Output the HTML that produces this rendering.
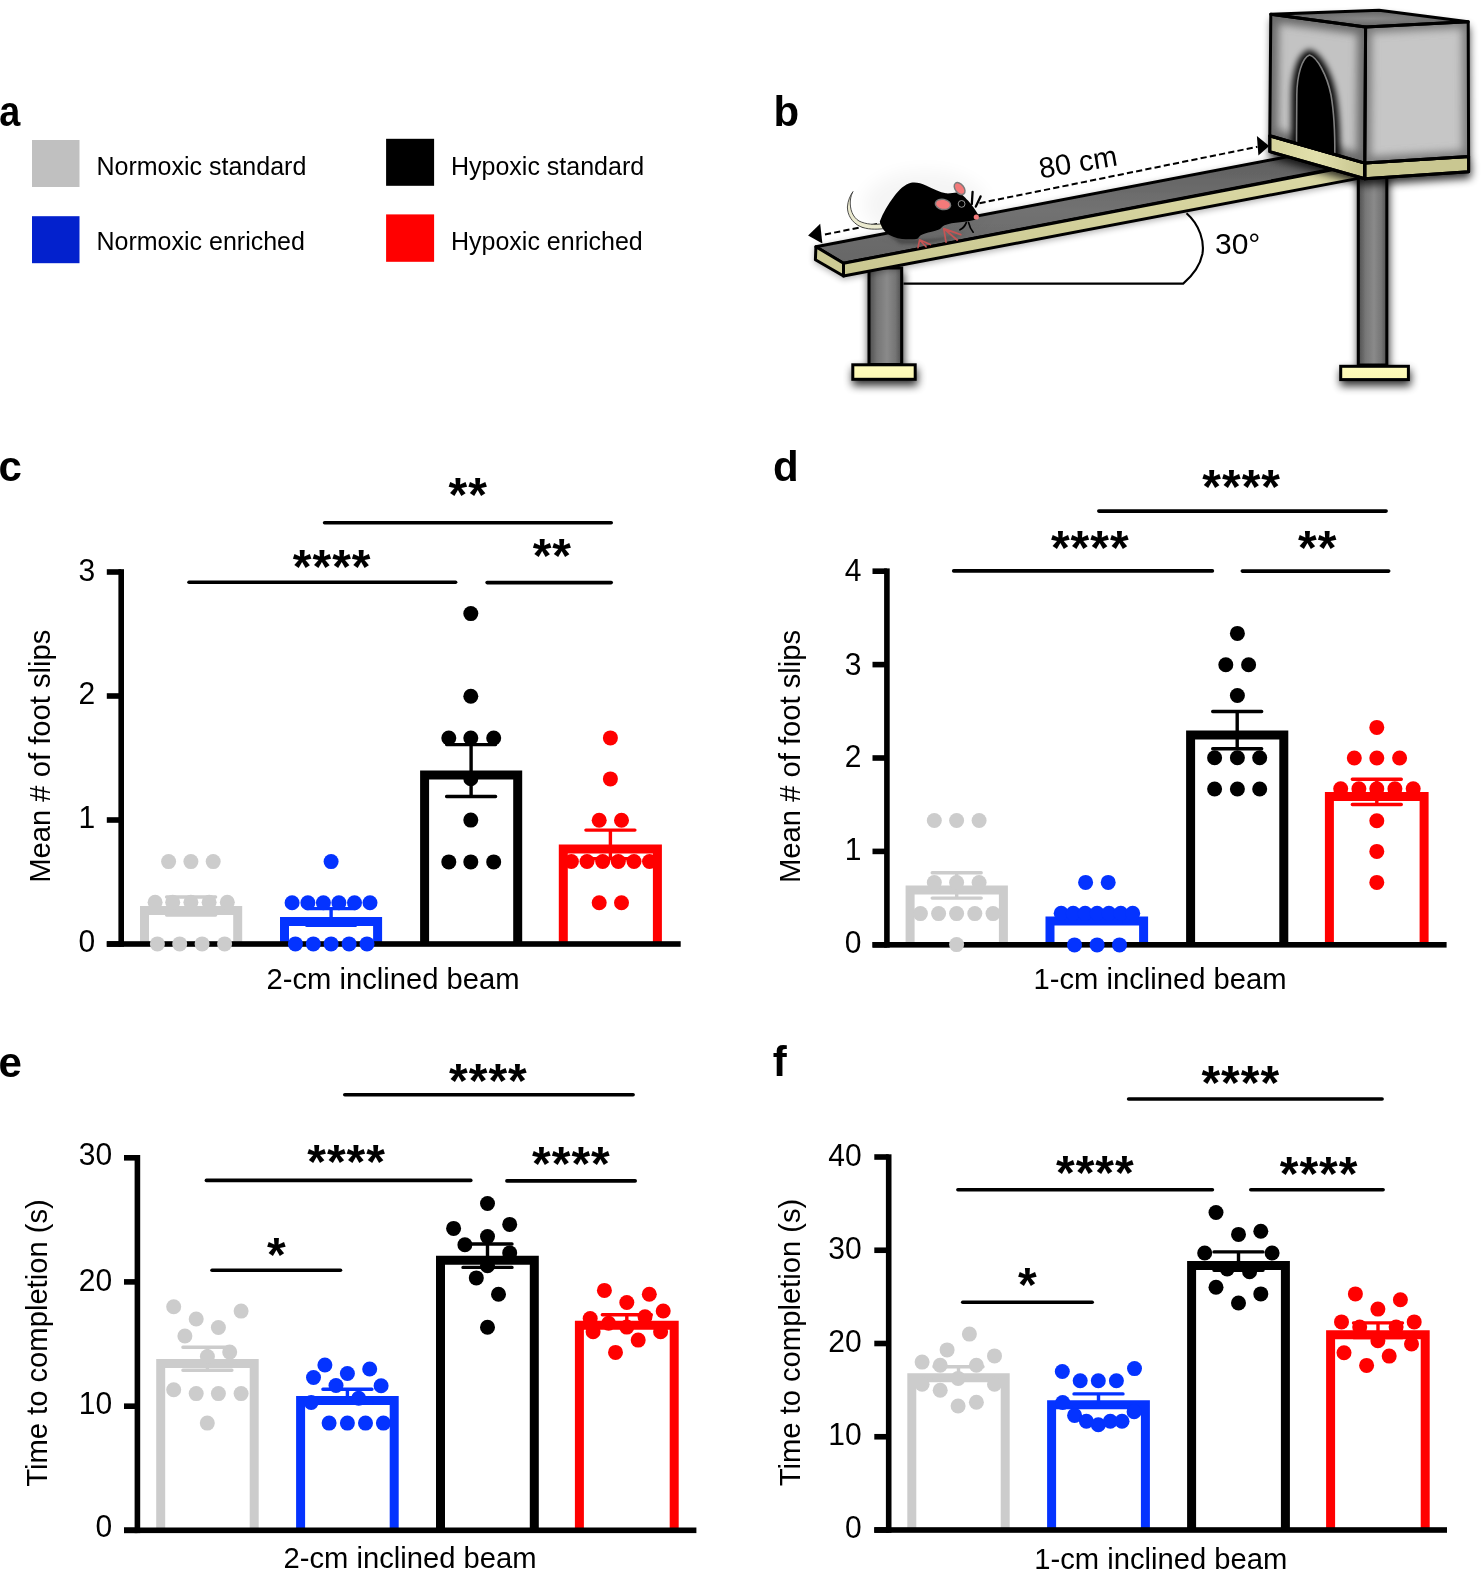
<!DOCTYPE html><html><head><meta charset="utf-8"><title>Figure</title>
<style>html,body{margin:0;padding:0;background:#fff;}svg{display:block;will-change:transform;}text{font-family:"Liberation Sans",sans-serif;}</style></head><body>
<svg width="1482" height="1569" viewBox="0 0 1482 1569">
<rect width="1482" height="1569" fill="#fff"/>
<text transform="translate(-0.7 125.6) scale(0.9 1)" font-size="42" font-weight="bold" font-family="Liberation Sans">a</text>
<rect x="32" y="140" width="47.5" height="47" fill="#c0c0c0"/>
<rect x="32" y="216.2" width="47.5" height="47" fill="#0321cd"/>
<rect x="386.1" y="138.8" width="48" height="47" fill="#000"/>
<rect x="386.1" y="214.4" width="48" height="47.4" fill="#ff0000"/>
<text x="96.5" y="174.6" font-size="25.0" font-family="Liberation Sans">Normoxic standard</text>
<text x="96.5" y="250.4" font-size="25.0" font-family="Liberation Sans">Normoxic enriched</text>
<text x="451" y="174.6" font-size="25.0" font-family="Liberation Sans">Hypoxic standard</text>
<text x="451" y="250.4" font-size="25.0" font-family="Liberation Sans">Hypoxic enriched</text>
<text x="773.6" y="125.6" font-size="42" font-weight="bold" font-family="Liberation Sans">b</text>
<text x="-1.5" y="480.7" font-size="42" font-weight="bold" font-family="Liberation Sans">c</text>
<text x="773.1" y="480.7" font-size="42" font-weight="bold" font-family="Liberation Sans">d</text>
<text x="-1.6" y="1076.5" font-size="42" font-weight="bold" font-family="Liberation Sans">e</text>
<text x="772.7" y="1076.3" font-size="42" font-weight="bold" font-family="Liberation Sans">f</text>
<defs>
<filter id="sh" x="-20%" y="-20%" width="140%" height="140%"><feGaussianBlur in="SourceAlpha" stdDeviation="4.5"/><feOffset dx="0.5" dy="4.5" result="b"/><feComponentTransfer><feFuncA type="linear" slope="0.8"/></feComponentTransfer><feMerge><feMergeNode/><feMergeNode in="SourceGraphic"/></feMerge></filter>
<filter id="shl" x="-20%" y="-20%" width="140%" height="140%"><feGaussianBlur in="SourceAlpha" stdDeviation="3.2"/><feOffset dx="0" dy="1.5" result="b"/><feComponentTransfer><feFuncA type="linear" slope="0.3"/></feComponentTransfer><feMerge><feMergeNode/><feMergeNode in="SourceGraphic"/></feMerge></filter>
<filter id="bl6" x="-50%" y="-50%" width="200%" height="200%"><feGaussianBlur stdDeviation="9"/></filter>
<filter id="bl4" x="-30%" y="-30%" width="160%" height="160%"><feGaussianBlur stdDeviation="4"/></filter>
<filter id="bl3" x="-30%" y="-30%" width="160%" height="160%"><feGaussianBlur stdDeviation="3"/></filter>
<filter id="bl2" x="-30%" y="-30%" width="160%" height="160%"><feGaussianBlur stdDeviation="1.6"/></filter>
<filter id="bl1" x="-30%" y="-30%" width="160%" height="160%"><feGaussianBlur stdDeviation="0.6"/></filter>
<linearGradient id="post" x1="0" y1="0" x2="1" y2="0"><stop offset="0" stop-color="#4e4e4e"/><stop offset="0.25" stop-color="#767676"/><stop offset="0.55" stop-color="#8a8a8a"/><stop offset="0.8" stop-color="#767676"/><stop offset="1" stop-color="#4e4e4e"/></linearGradient>
<linearGradient id="foot" x1="0" y1="0" x2="0" y2="1"><stop offset="0" stop-color="#fffcbc"/><stop offset="1" stop-color="#fbf7b4"/></linearGradient>
<linearGradient id="beamtop" x1="0" y1="0" x2="0" y2="1"><stop offset="0" stop-color="#5e5e5e"/><stop offset="0.5" stop-color="#727272"/><stop offset="1" stop-color="#666666"/></linearGradient>
<linearGradient id="beamfront" x1="0" y1="0" x2="0" y2="1"><stop offset="0" stop-color="#dcdaa6"/><stop offset="1" stop-color="#c9c790"/></linearGradient>
<linearGradient id="plat" x1="0" y1="0" x2="1" y2="0"><stop offset="0" stop-color="#d5d39c"/><stop offset="0.5" stop-color="#e2e0ac"/><stop offset="1" stop-color="#c6c48e"/></linearGradient>
<radialGradient id="boxtop" cx="0.5" cy="0.5" r="0.6"><stop offset="0" stop-color="#888888"/><stop offset="1" stop-color="#5a5a5a"/></radialGradient>
<clipPath id="cfl"><path d="M1270.8 14.2 L1365.6 27.0 L1364.8 163.1 L1269.8 135.8 Z"/></clipPath>
<clipPath id="cfr"><path d="M1365.6 27.0 L1468.2 21.7 L1468.6 156.4 L1364.8 163.1 Z"/></clipPath>
</defs>
<g filter="url(#sh)">
<rect x="869" y="268" width="32.7" height="96.5" fill="url(#post)" stroke="#000" stroke-width="3"/>
<rect x="1358.3" y="172" width="28.5" height="193" fill="url(#post)" stroke="#000" stroke-width="3"/>
<rect x="852.8" y="364.8" width="62.4" height="14.5" fill="url(#foot)" stroke="#000" stroke-width="3"/>
<rect x="1340.7" y="366.3" width="67.7" height="13.3" fill="url(#foot)" stroke="#000" stroke-width="3"/>
</g>
<g filter="url(#shl)">
<path d="M815.9 246.7 L1290.0 156.3 L1345.0 166.8 L843.5 263.2 Z" fill="url(#beamtop)" stroke="#000" stroke-width="3" stroke-linejoin="round"/>
<path d="M843.5 263.2 L1357.0 165.1 L1357.0 178.6 L843.5 276.0 Z" fill="url(#beamfront)" stroke="#000" stroke-width="3" stroke-linejoin="round"/>
<path d="M815.9 246.7 L843.5 263.2 L843.5 276.0 L815.4 259.8 Z" fill="#cdcb94" stroke="#000" stroke-width="3" stroke-linejoin="round"/>
</g>
<g filter="url(#sh)">
<path d="M1269.8 135.8 L1364.8 163.1 L1364.8 178.8 L1269.8 151.6 Z" fill="url(#plat)" stroke="#000" stroke-width="3" stroke-linejoin="round"/>
<path d="M1364.8 163.1 L1468.6 156.4 L1468.6 171.7 L1364.8 178.8 Z" fill="#c9c791" stroke="#000" stroke-width="3" stroke-linejoin="round"/>
<path d="M1270.8 14.2 L1365.6 27.0 L1364.8 163.1 L1269.8 135.8 Z" fill="#c3c3c3"/>
<path d="M1365.6 27.0 L1468.2 21.7 L1468.6 156.4 L1364.8 163.1 Z" fill="#c6c6c6"/>
<path d="M1270.8 14.2 L1379.1 10.2 L1468.2 21.7 L1365.6 27.0 Z" fill="url(#boxtop)"/>
</g>
<g clip-path="url(#cfl)"><path d="M1270.8 14.2 L1365.6 27.0 L1364.8 163.1 L1269.8 135.8 Z" fill="none" stroke="#6a6a6a" stroke-width="16" filter="url(#bl4)"/>
<path d="M1296.5 146 L1296.8 95 C1297 75 1302 58 1309.5 55 C1317 57 1327 75 1331 95 C1334 112 1335 135 1334.8 156 Z" fill="none" stroke="#000" stroke-width="10" filter="url(#bl3)"/>
<path d="M1296.5 146 L1296.8 95 C1297 75 1302 58 1309.5 55 C1317 57 1327 75 1331 95 C1334 112 1335 135 1334.8 156 Z" fill="#000" stroke="#808080" stroke-width="1.6"/>
</g>
<g clip-path="url(#cfr)"><path d="M1365.6 27.0 L1468.2 21.7 L1468.6 156.4 L1364.8 163.1 Z" fill="none" stroke="#7a7a7a" stroke-width="12" filter="url(#bl4)"/></g>
<path d="M1270.8 14.2 L1365.6 27.0 L1364.8 163.1 L1269.8 135.8 Z" fill="none" stroke="#000" stroke-width="3" stroke-linejoin="round"/>
<path d="M1365.6 27.0 L1468.2 21.7 L1468.6 156.4 L1364.8 163.1 Z" fill="none" stroke="#000" stroke-width="3" stroke-linejoin="round"/>
<path d="M1270.8 14.2 L1379.1 10.2 L1468.2 21.7 L1365.6 27.0 Z" fill="none" stroke="#000" stroke-width="3" stroke-linejoin="round"/>
<path d="M1269.8 135.8 L1364.8 163.1 L1364.8 178.8 L1269.8 151.6 Z" fill="none" stroke="#000" stroke-width="3" stroke-linejoin="round"/>
<path d="M1364.8 163.1 L1468.6 156.4 L1468.6 171.7 L1364.8 178.8 Z" fill="none" stroke="#000" stroke-width="3" stroke-linejoin="round"/>
<path d="M903.5 283.6 H1183.2 C1192 276 1200 266 1202.4 254 C1204.5 242 1200 225 1186.5 213.2" fill="none" stroke="#000" stroke-width="2.1"/>
<text x="1215" y="254.3" font-size="30" font-family="Liberation Sans">30°</text>
<path d="M822 235.1 L900 219.3" stroke="#000" stroke-width="2" stroke-dasharray="6.2 3.2" stroke-dashoffset="-3"/>
<path d="M979.5 203.2 L1257.5 146.8" stroke="#000" stroke-width="2" stroke-dasharray="6.2 3.2"/>
<path d="M808.1 235.4 L820.2 223.8 L822.4 243.5 Z" fill="#000"/>
<path d="M1269.2 145.9 L1256.9 136 L1258.4 155.6 Z" fill="#000"/>
<text transform="translate(1040.8 178.6) rotate(-9.8)" font-size="29" font-family="Liberation Sans">80 cm</text>
<ellipse cx="925" cy="205" rx="62" ry="34" fill="#000" opacity="0.04" filter="url(#bl6)"/>
<path d="M884 232 C900 240 930 243 965 233 C955 238 925 246 900 244 Z" fill="#333" opacity="0.5" filter="url(#bl2)"/>
<path d="M883 223.6 C875 225 866 224.5 859 221 C852.5 217 849.8 209 850.3 201 C850.7 196.5 851.8 193.5 853 191.6 C850.5 195 847.8 200.5 847.4 207 C847.4 215 852 222.5 860 226.4 C867 229.6 876 229.6 884 228.6 Z" fill="#ebead0" stroke="#3a3a3a" stroke-width="0.9" stroke-linejoin="round"/>
<path d="M879.8 221.5 C883 213 888 204 894 196.5 C899 190 905 184 911 182.8 C916 182 921 183.2 926 185.4 C933 188.6 940 192.2 946 193.3 C950 193.8 954 192.3 957 192.4 C961 193 964.5 196.5 968 200.5 C972 205 975.5 210 978.3 214.8 C979 217 977.8 219 975 219.8 C971 221 966 221.8 960 222.2 C954 222.6 948.5 223.6 944.5 225.2 C942 226.5 941 228.5 939 229.6 C934 231.4 929 232.4 925 233.4 C921 234.4 919 236.2 918 238.4 C914 239.6 908 239.4 902 239 C896 238.4 890 235.8 886 232.4 C883 229.8 881 226 879.8 221.5 Z" fill="#000"/>
<ellipse cx="943" cy="204.4" rx="7.7" ry="5.1" transform="rotate(10 943 204.4)" fill="#f47a7a" stroke="#7c7c7c" stroke-width="1.5"/>
<ellipse cx="959.6" cy="188.6" rx="4.3" ry="6.8" transform="rotate(-38 959.6 188.6)" fill="#f47a7a" stroke="#7c7c7c" stroke-width="1.5"/>
<circle cx="961.6" cy="203.9" r="3.4" fill="#000" stroke="#b8b8b8" stroke-width="0.8"/>
<circle cx="976.3" cy="217" r="2.6" fill="#f47a7a"/>
<path d="M972.6 191.8 L971.8 204.2 M980.6 196.4 L975.8 206.6" fill="none" stroke="#000" stroke-width="2.3" stroke-linecap="round"/>
<path d="M966.3 222.6 C965 226 962.5 228.6 960 229.8 M968.6 222.6 C969.5 226.5 971.3 230 973.2 232.2" fill="none" stroke="#000" stroke-width="1.7" stroke-linecap="round"/>
<path d="M918 247.6 L919.6 239.8 L930.2 244.6 M919.6 239.8 L926 246.8 M946 242.2 L943.8 228.6 L960.8 234.6 M943.8 228.6 L957.2 240" fill="none" stroke="#c65454" stroke-width="1.7" stroke-linecap="round" stroke-linejoin="round"/>
<path d="M144.5 944 V910.6 H237.7 V944" fill="none" stroke="#cccccc" stroke-width="9" stroke-linejoin="miter"/>
<path d="M284.5 944 V921.4 H377.6 V944" fill="none" stroke="#0433ff" stroke-width="9" stroke-linejoin="miter"/>
<path d="M424.6 944 V775 H517.7 V944" fill="none" stroke="#000000" stroke-width="9" stroke-linejoin="miter"/>
<path d="M563.3 944 V848.9 H657.4 V944" fill="none" stroke="#ff0000" stroke-width="9" stroke-linejoin="miter"/>
<rect x="118.4" y="569.2" width="5.6" height="377.6" fill="#000"/>
<rect x="106.8" y="941.2" width="573.9" height="5.6" fill="#000"/>
<rect x="106.8" y="569.2" width="14.4" height="5.6" fill="#000"/>
<text transform="translate(95.1 570.25) scale(1 1.05)" x="0" y="10.32" text-anchor="end" font-size="30" font-family="Liberation Sans">3</text>
<rect x="106.8" y="693.2" width="14.4" height="5.6" fill="#000"/>
<text transform="translate(95.1 693.65) scale(1 1.05)" x="0" y="10.32" text-anchor="end" font-size="30" font-family="Liberation Sans">2</text>
<rect x="106.8" y="817.2" width="14.4" height="5.6" fill="#000"/>
<text transform="translate(95.1 817.3) scale(1 1.05)" x="0" y="10.32" text-anchor="end" font-size="30" font-family="Liberation Sans">1</text>
<rect x="106.8" y="941.2" width="14.4" height="5.6" fill="#000"/>
<text transform="translate(95.1 940.85) scale(1 1.05)" x="0" y="10.32" text-anchor="end" font-size="30" font-family="Liberation Sans">0</text>
<path d="M191.1 897 V915 M166.6 897 H215.6 M166.6 915 H215.6" fill="none" stroke="#cccccc" stroke-width="3.4" stroke-linecap="round"/>
<path d="M331.1 908.6 V925.2 M306.6 908.6 H355.6 M306.6 925.2 H355.6" fill="none" stroke="#0433ff" stroke-width="3.4" stroke-linecap="round"/>
<path d="M471.1 744.6 V796.5 M446.6 744.6 H495.6 M446.6 796.5 H495.6" fill="none" stroke="#000000" stroke-width="3.4" stroke-linecap="round"/>
<path d="M610.4 830.1 V858.7 M585.9 830.1 H634.9 M585.9 858.7 H634.9" fill="none" stroke="#ff0000" stroke-width="3.4" stroke-linecap="round"/>
<circle cx="168.6" cy="861.6" r="7.5" fill="#cccccc"/>
<circle cx="190.9" cy="861.6" r="7.5" fill="#cccccc"/>
<circle cx="213.2" cy="861.6" r="7.5" fill="#cccccc"/>
<circle cx="155.1" cy="902.3" r="7.5" fill="#cccccc"/>
<circle cx="172.7" cy="902.3" r="7.5" fill="#cccccc"/>
<circle cx="190.9" cy="902.3" r="7.5" fill="#cccccc"/>
<circle cx="209.1" cy="902.3" r="7.5" fill="#cccccc"/>
<circle cx="227.3" cy="902.3" r="7.5" fill="#cccccc"/>
<circle cx="157.4" cy="943.9" r="7.5" fill="#cccccc"/>
<circle cx="179.7" cy="943.9" r="7.5" fill="#cccccc"/>
<circle cx="202.1" cy="943.9" r="7.5" fill="#cccccc"/>
<circle cx="224.6" cy="943.9" r="7.5" fill="#cccccc"/>
<circle cx="331.1" cy="861.6" r="7.5" fill="#0433ff"/>
<circle cx="292.1" cy="902.8" r="7.5" fill="#0433ff"/>
<circle cx="307.9" cy="902.8" r="7.5" fill="#0433ff"/>
<circle cx="323.4" cy="902.8" r="7.5" fill="#0433ff"/>
<circle cx="338.9" cy="902.8" r="7.5" fill="#0433ff"/>
<circle cx="354.5" cy="902.8" r="7.5" fill="#0433ff"/>
<circle cx="370" cy="902.8" r="7.5" fill="#0433ff"/>
<circle cx="295.4" cy="943.9" r="7.5" fill="#0433ff"/>
<circle cx="313.3" cy="943.9" r="7.5" fill="#0433ff"/>
<circle cx="331.1" cy="943.9" r="7.5" fill="#0433ff"/>
<circle cx="349.1" cy="943.9" r="7.5" fill="#0433ff"/>
<circle cx="367" cy="943.9" r="7.5" fill="#0433ff"/>
<circle cx="470.8" cy="613.6" r="7.5" fill="#000000"/>
<circle cx="470.8" cy="696.2" r="7.5" fill="#000000"/>
<circle cx="448.8" cy="738" r="7.5" fill="#000000"/>
<circle cx="470.8" cy="738" r="7.5" fill="#000000"/>
<circle cx="493.7" cy="738" r="7.5" fill="#000000"/>
<circle cx="470.8" cy="778.8" r="7.5" fill="#000000"/>
<circle cx="470.8" cy="820.1" r="7.5" fill="#000000"/>
<circle cx="448.8" cy="861.9" r="7.5" fill="#000000"/>
<circle cx="470.8" cy="861.9" r="7.5" fill="#000000"/>
<circle cx="493.7" cy="861.9" r="7.5" fill="#000000"/>
<circle cx="610.4" cy="737.9" r="7.5" fill="#ff0000"/>
<circle cx="610.4" cy="778.9" r="7.5" fill="#ff0000"/>
<circle cx="599.2" cy="820.2" r="7.5" fill="#ff0000"/>
<circle cx="621.5" cy="820.2" r="7.5" fill="#ff0000"/>
<circle cx="571.4" cy="861.5" r="7.5" fill="#ff0000"/>
<circle cx="587" cy="861.5" r="7.5" fill="#ff0000"/>
<circle cx="602.7" cy="861.5" r="7.5" fill="#ff0000"/>
<circle cx="618.3" cy="861.5" r="7.5" fill="#ff0000"/>
<circle cx="634" cy="861.5" r="7.5" fill="#ff0000"/>
<circle cx="649.5" cy="861.5" r="7.5" fill="#ff0000"/>
<circle cx="599.2" cy="902.8" r="7.5" fill="#ff0000"/>
<circle cx="621.5" cy="902.8" r="7.5" fill="#ff0000"/>
<path d="M189 582.2 H455.6" stroke="#000" stroke-width="3.6" stroke-linecap="round"/>
<path d="M487.1 582.6 H611.2" stroke="#000" stroke-width="3.6" stroke-linecap="round"/>
<path d="M324.6 522.7 H611.2" stroke="#000" stroke-width="3.6" stroke-linecap="round"/>
<text x="332.15" y="583.2" text-anchor="middle" font-size="48" font-weight="bold" letter-spacing="1" font-family="Liberation Sans">****</text>
<text x="552.35" y="571.9" text-anchor="middle" font-size="48" font-weight="bold" letter-spacing="1" font-family="Liberation Sans">**</text>
<text x="468.15" y="510.5" text-anchor="middle" font-size="48" font-weight="bold" letter-spacing="1" font-family="Liberation Sans">**</text>
<text transform="translate(49.5 756.2) rotate(-90)" text-anchor="middle" font-size="29.2" font-family="Liberation Sans">Mean # of foot slips</text>
<text x="393.05" y="988.5" text-anchor="middle" font-size="29.2" font-family="Liberation Sans">2-cm inclined beam</text>
<path d="M910.1 944.8 V890 H1003.4 V944.8" fill="none" stroke="#cccccc" stroke-width="9" stroke-linejoin="miter"/>
<path d="M1050 944.8 V920.9 H1143.6 V944.8" fill="none" stroke="#0433ff" stroke-width="9" stroke-linejoin="miter"/>
<path d="M1190.6 944.8 V735 H1283.8 V944.8" fill="none" stroke="#000000" stroke-width="9" stroke-linejoin="miter"/>
<path d="M1329.4 944.8 V796.5 H1424.1 V944.8" fill="none" stroke="#ff0000" stroke-width="9" stroke-linejoin="miter"/>
<rect x="884.1" y="568.4" width="5.6" height="379.2" fill="#000"/>
<rect x="872.5" y="942" width="574.1" height="5.6" fill="#000"/>
<rect x="872.5" y="568.4" width="14.4" height="5.6" fill="#000"/>
<text transform="translate(861.4 570.65) scale(1 1.05)" x="0" y="10.32" text-anchor="end" font-size="30" font-family="Liberation Sans">4</text>
<rect x="872.5" y="661.8" width="14.4" height="5.6" fill="#000"/>
<text transform="translate(861.4 663.75) scale(1 1.05)" x="0" y="10.32" text-anchor="end" font-size="30" font-family="Liberation Sans">3</text>
<rect x="872.5" y="755.2" width="14.4" height="5.6" fill="#000"/>
<text transform="translate(861.4 756.15) scale(1 1.05)" x="0" y="10.32" text-anchor="end" font-size="30" font-family="Liberation Sans">2</text>
<rect x="872.5" y="848.6" width="14.4" height="5.6" fill="#000"/>
<text transform="translate(861.4 848.8) scale(1 1.05)" x="0" y="10.32" text-anchor="end" font-size="30" font-family="Liberation Sans">1</text>
<rect x="872.5" y="942" width="14.4" height="5.6" fill="#000"/>
<text transform="translate(861.4 941.95) scale(1 1.05)" x="0" y="10.32" text-anchor="end" font-size="30" font-family="Liberation Sans">0</text>
<path d="M956.7 872.7 V898.1 M932.2 872.7 H981.2 M932.2 898.1 H981.2" fill="none" stroke="#cccccc" stroke-width="3.4" stroke-linecap="round"/>
<path d="M1096.8 910.5 V922 M1072.3 910.5 H1121.3 M1072.3 922 H1121.3" fill="none" stroke="#0433ff" stroke-width="3.4" stroke-linecap="round"/>
<path d="M1237.2 711.5 V748.8 M1212.7 711.5 H1261.7 M1212.7 748.8 H1261.7" fill="none" stroke="#000000" stroke-width="3.4" stroke-linecap="round"/>
<path d="M1376.8 779.3 V804.5 M1352.3 779.3 H1401.3 M1352.3 804.5 H1401.3" fill="none" stroke="#ff0000" stroke-width="3.4" stroke-linecap="round"/>
<circle cx="934.3" cy="820.5" r="7.5" fill="#cccccc"/>
<circle cx="956.6" cy="820.5" r="7.5" fill="#cccccc"/>
<circle cx="979.1" cy="820.5" r="7.5" fill="#cccccc"/>
<circle cx="934.3" cy="882.6" r="7.5" fill="#cccccc"/>
<circle cx="956.6" cy="882.6" r="7.5" fill="#cccccc"/>
<circle cx="979.1" cy="882.6" r="7.5" fill="#cccccc"/>
<circle cx="920.4" cy="913.6" r="7.5" fill="#cccccc"/>
<circle cx="938.6" cy="913.6" r="7.5" fill="#cccccc"/>
<circle cx="956.6" cy="913.6" r="7.5" fill="#cccccc"/>
<circle cx="974.8" cy="913.6" r="7.5" fill="#cccccc"/>
<circle cx="993" cy="913.6" r="7.5" fill="#cccccc"/>
<circle cx="956.6" cy="944.6" r="7.5" fill="#cccccc"/>
<circle cx="1085.6" cy="882.4" r="7.5" fill="#0433ff"/>
<circle cx="1108.2" cy="882.4" r="7.5" fill="#0433ff"/>
<circle cx="1061.2" cy="913.3" r="7.5" fill="#0433ff"/>
<circle cx="1073.2" cy="913.3" r="7.5" fill="#0433ff"/>
<circle cx="1085.1" cy="913.3" r="7.5" fill="#0433ff"/>
<circle cx="1097.1" cy="913.3" r="7.5" fill="#0433ff"/>
<circle cx="1108.9" cy="913.3" r="7.5" fill="#0433ff"/>
<circle cx="1120.8" cy="913.3" r="7.5" fill="#0433ff"/>
<circle cx="1132.7" cy="913.3" r="7.5" fill="#0433ff"/>
<circle cx="1074.5" cy="944.9" r="7.5" fill="#0433ff"/>
<circle cx="1097.1" cy="944.9" r="7.5" fill="#0433ff"/>
<circle cx="1119.5" cy="944.9" r="7.5" fill="#0433ff"/>
<circle cx="1237.4" cy="633.4" r="7.5" fill="#000000"/>
<circle cx="1225.8" cy="664.7" r="7.5" fill="#000000"/>
<circle cx="1248.6" cy="664.7" r="7.5" fill="#000000"/>
<circle cx="1237.4" cy="695.5" r="7.5" fill="#000000"/>
<circle cx="1214.6" cy="757.7" r="7.5" fill="#000000"/>
<circle cx="1237.4" cy="757.7" r="7.5" fill="#000000"/>
<circle cx="1259.7" cy="757.7" r="7.5" fill="#000000"/>
<circle cx="1214.6" cy="789" r="7.5" fill="#000000"/>
<circle cx="1237.4" cy="789" r="7.5" fill="#000000"/>
<circle cx="1259.7" cy="789" r="7.5" fill="#000000"/>
<circle cx="1376.8" cy="727.4" r="7.5" fill="#ff0000"/>
<circle cx="1354.3" cy="758" r="7.5" fill="#ff0000"/>
<circle cx="1376.8" cy="758" r="7.5" fill="#ff0000"/>
<circle cx="1399.6" cy="758" r="7.5" fill="#ff0000"/>
<circle cx="1340.7" cy="788.7" r="7.5" fill="#ff0000"/>
<circle cx="1358.9" cy="788.7" r="7.5" fill="#ff0000"/>
<circle cx="1376.8" cy="788.7" r="7.5" fill="#ff0000"/>
<circle cx="1394.9" cy="788.7" r="7.5" fill="#ff0000"/>
<circle cx="1413.2" cy="788.7" r="7.5" fill="#ff0000"/>
<circle cx="1376.8" cy="820.7" r="7.5" fill="#ff0000"/>
<circle cx="1376.8" cy="851.4" r="7.5" fill="#ff0000"/>
<circle cx="1376.8" cy="882.4" r="7.5" fill="#ff0000"/>
<path d="M953.7 570.9 H1212.4" stroke="#000" stroke-width="3.6" stroke-linecap="round"/>
<path d="M1242.3 571.1 H1388.7" stroke="#000" stroke-width="3.6" stroke-linecap="round"/>
<path d="M1098.8 511.1 H1386.1" stroke="#000" stroke-width="3.6" stroke-linecap="round"/>
<text x="1090.25" y="564.3" text-anchor="middle" font-size="48" font-weight="bold" letter-spacing="1" font-family="Liberation Sans">****</text>
<text x="1317.65" y="564.3" text-anchor="middle" font-size="48" font-weight="bold" letter-spacing="1" font-family="Liberation Sans">**</text>
<text x="1241.7" y="503.2" text-anchor="middle" font-size="48" font-weight="bold" letter-spacing="1" font-family="Liberation Sans">****</text>
<text transform="translate(799.5 756.4) rotate(-90)" text-anchor="middle" font-size="29.2" font-family="Liberation Sans">Mean # of foot slips</text>
<text x="1160" y="988.7" text-anchor="middle" font-size="29.2" font-family="Liberation Sans">1-cm inclined beam</text>
<path d="M160.7 1530.3 V1363.5 H254.2 V1530.3" fill="none" stroke="#cccccc" stroke-width="9" stroke-linejoin="miter"/>
<path d="M300.6 1530.3 V1400.4 H394.2 V1530.3" fill="none" stroke="#0433ff" stroke-width="9" stroke-linejoin="miter"/>
<path d="M440.5 1530.3 V1260.3 H534.3 V1530.3" fill="none" stroke="#000000" stroke-width="9" stroke-linejoin="miter"/>
<path d="M579.4 1530.3 V1325.2 H674.2 V1530.3" fill="none" stroke="#ff0000" stroke-width="9" stroke-linejoin="miter"/>
<rect x="134.6" y="1155" width="5.6" height="378.1" fill="#000"/>
<rect x="124" y="1527.5" width="572.4" height="5.6" fill="#000"/>
<rect x="124" y="1155" width="13.4" height="5.6" fill="#000"/>
<text transform="translate(112.1 1154.55) scale(1 1.05)" x="0" y="10.32" text-anchor="end" font-size="30" font-family="Liberation Sans">30</text>
<rect x="124" y="1279.1" width="13.4" height="5.6" fill="#000"/>
<text transform="translate(112.1 1280.2) scale(1 1.05)" x="0" y="10.32" text-anchor="end" font-size="30" font-family="Liberation Sans">20</text>
<rect x="124" y="1403.4" width="13.4" height="5.6" fill="#000"/>
<text transform="translate(112.1 1403.25) scale(1 1.05)" x="0" y="10.32" text-anchor="end" font-size="30" font-family="Liberation Sans">10</text>
<rect x="124" y="1527.5" width="13.4" height="5.6" fill="#000"/>
<text transform="translate(112.1 1525.85) scale(1 1.05)" x="0" y="10.32" text-anchor="end" font-size="30" font-family="Liberation Sans">0</text>
<path d="M207.4 1347.3 V1370.3 M182.9 1347.3 H231.9 M182.9 1370.3 H231.9" fill="none" stroke="#cccccc" stroke-width="3.4" stroke-linecap="round"/>
<path d="M347.4 1389.3 V1402.5 M322.9 1389.3 H371.9 M322.9 1402.5 H371.9" fill="none" stroke="#0433ff" stroke-width="3.4" stroke-linecap="round"/>
<path d="M487.5 1244 V1267.4 M463 1244 H512 M463 1267.4 H512" fill="none" stroke="#000000" stroke-width="3.4" stroke-linecap="round"/>
<path d="M626.8 1314.8 V1326.6 M602.3 1314.8 H651.3 M602.3 1326.6 H651.3" fill="none" stroke="#ff0000" stroke-width="3.4" stroke-linecap="round"/>
<circle cx="173.7" cy="1306.7" r="7.5" fill="#cccccc"/>
<circle cx="196.2" cy="1319" r="7.5" fill="#cccccc"/>
<circle cx="241.1" cy="1311.1" r="7.5" fill="#cccccc"/>
<circle cx="184.9" cy="1336" r="7.5" fill="#cccccc"/>
<circle cx="218.4" cy="1327.5" r="7.5" fill="#cccccc"/>
<circle cx="207.4" cy="1356.6" r="7.5" fill="#cccccc"/>
<circle cx="229.7" cy="1352.1" r="7.5" fill="#cccccc"/>
<circle cx="173.7" cy="1389.7" r="7.5" fill="#cccccc"/>
<circle cx="196.2" cy="1393.6" r="7.5" fill="#cccccc"/>
<circle cx="218.4" cy="1393.6" r="7.5" fill="#cccccc"/>
<circle cx="241.1" cy="1393.6" r="7.5" fill="#cccccc"/>
<circle cx="207.3" cy="1423.1" r="7.5" fill="#cccccc"/>
<circle cx="324.9" cy="1365" r="7.5" fill="#0433ff"/>
<circle cx="313.5" cy="1377.5" r="7.5" fill="#0433ff"/>
<circle cx="347.4" cy="1373.5" r="7.5" fill="#0433ff"/>
<circle cx="369.7" cy="1369" r="7.5" fill="#0433ff"/>
<circle cx="336" cy="1385.5" r="7.5" fill="#0433ff"/>
<circle cx="381.1" cy="1385.8" r="7.5" fill="#0433ff"/>
<circle cx="311.2" cy="1402.5" r="7.5" fill="#0433ff"/>
<circle cx="358.7" cy="1398.2" r="7.5" fill="#0433ff"/>
<circle cx="329.1" cy="1423.1" r="7.5" fill="#0433ff"/>
<circle cx="347.4" cy="1423.1" r="7.5" fill="#0433ff"/>
<circle cx="365.5" cy="1423.1" r="7.5" fill="#0433ff"/>
<circle cx="383.4" cy="1423.1" r="7.5" fill="#0433ff"/>
<circle cx="487.5" cy="1203.5" r="7.5" fill="#000000"/>
<circle cx="453.6" cy="1228.4" r="7.5" fill="#000000"/>
<circle cx="509.7" cy="1224.4" r="7.5" fill="#000000"/>
<circle cx="487.5" cy="1236.6" r="7.5" fill="#000000"/>
<circle cx="464.9" cy="1244.7" r="7.5" fill="#000000"/>
<circle cx="509.7" cy="1252.9" r="7.5" fill="#000000"/>
<circle cx="487.5" cy="1265.7" r="7.5" fill="#000000"/>
<circle cx="476.3" cy="1277.9" r="7.5" fill="#000000"/>
<circle cx="498.5" cy="1294.2" r="7.5" fill="#000000"/>
<circle cx="487.5" cy="1327.3" r="7.5" fill="#000000"/>
<circle cx="604.4" cy="1290.4" r="7.5" fill="#ff0000"/>
<circle cx="649.3" cy="1294.2" r="7.5" fill="#ff0000"/>
<circle cx="626.8" cy="1302.5" r="7.5" fill="#ff0000"/>
<circle cx="663.2" cy="1311" r="7.5" fill="#ff0000"/>
<circle cx="590.2" cy="1318.6" r="7.5" fill="#ff0000"/>
<circle cx="645" cy="1316.7" r="7.5" fill="#ff0000"/>
<circle cx="608.6" cy="1323.3" r="7.5" fill="#ff0000"/>
<circle cx="626.8" cy="1327.1" r="7.5" fill="#ff0000"/>
<circle cx="593.1" cy="1331.8" r="7.5" fill="#ff0000"/>
<circle cx="660.6" cy="1331.8" r="7.5" fill="#ff0000"/>
<circle cx="638.2" cy="1340.1" r="7.5" fill="#ff0000"/>
<circle cx="615.5" cy="1352.4" r="7.5" fill="#ff0000"/>
<path d="M344.8 1094.7 H633.1" stroke="#000" stroke-width="3.6" stroke-linecap="round"/>
<path d="M206.4 1180.4 H470.8" stroke="#000" stroke-width="3.6" stroke-linecap="round"/>
<path d="M506.9 1180.9 H635.2" stroke="#000" stroke-width="3.6" stroke-linecap="round"/>
<path d="M212 1270.2 H340.5" stroke="#000" stroke-width="3.6" stroke-linecap="round"/>
<text x="488.4" y="1096.5" text-anchor="middle" font-size="48" font-weight="bold" letter-spacing="1" font-family="Liberation Sans">****</text>
<text x="346.6" y="1177.7" text-anchor="middle" font-size="48" font-weight="bold" letter-spacing="1" font-family="Liberation Sans">****</text>
<text x="571.45" y="1180.3" text-anchor="middle" font-size="48" font-weight="bold" letter-spacing="1" font-family="Liberation Sans">****</text>
<text x="276.9" y="1270.7" text-anchor="middle" font-size="48" font-weight="bold" letter-spacing="1" font-family="Liberation Sans">*</text>
<text transform="translate(47.2 1343) rotate(-90)" text-anchor="middle" font-size="29.2" font-family="Liberation Sans">Time to completion (s)</text>
<text x="410" y="1568.4" text-anchor="middle" font-size="29.2" font-family="Liberation Sans">2-cm inclined beam</text>
<path d="M911.8 1530 V1377.7 H1005.2 V1530" fill="none" stroke="#cccccc" stroke-width="9" stroke-linejoin="miter"/>
<path d="M1051.6 1530 V1404.7 H1145.4 V1530" fill="none" stroke="#0433ff" stroke-width="9" stroke-linejoin="miter"/>
<path d="M1191.6 1530 V1265.6 H1285.4 V1530" fill="none" stroke="#000000" stroke-width="9" stroke-linejoin="miter"/>
<path d="M1330.6 1530 V1334.7 H1425.2 V1530" fill="none" stroke="#ff0000" stroke-width="9" stroke-linejoin="miter"/>
<rect x="885.9" y="1154.3" width="5.6" height="378.5" fill="#000"/>
<rect x="874.3" y="1527.2" width="572.7" height="5.6" fill="#000"/>
<rect x="874.3" y="1154.2" width="14.4" height="5.6" fill="#000"/>
<text transform="translate(861.6 1155.3) scale(1 1.05)" x="0" y="10.32" text-anchor="end" font-size="30" font-family="Liberation Sans">40</text>
<rect x="874.3" y="1247.45" width="14.4" height="5.6" fill="#000"/>
<text transform="translate(861.6 1248.6) scale(1 1.05)" x="0" y="10.32" text-anchor="end" font-size="30" font-family="Liberation Sans">30</text>
<rect x="874.3" y="1340.7" width="14.4" height="5.6" fill="#000"/>
<text transform="translate(861.6 1341.3) scale(1 1.05)" x="0" y="10.32" text-anchor="end" font-size="30" font-family="Liberation Sans">20</text>
<rect x="874.3" y="1433.95" width="14.4" height="5.6" fill="#000"/>
<text transform="translate(861.6 1434) scale(1 1.05)" x="0" y="10.32" text-anchor="end" font-size="30" font-family="Liberation Sans">10</text>
<rect x="874.3" y="1527.2" width="14.4" height="5.6" fill="#000"/>
<text transform="translate(861.6 1526.9) scale(1 1.05)" x="0" y="10.32" text-anchor="end" font-size="30" font-family="Liberation Sans">0</text>
<path d="M958.5 1366.7 V1379.7 M934 1366.7 H983 M934 1379.7 H983" fill="none" stroke="#cccccc" stroke-width="3.4" stroke-linecap="round"/>
<path d="M1098.5 1393.9 V1406.5 M1074 1393.9 H1123 M1074 1406.5 H1123" fill="none" stroke="#0433ff" stroke-width="3.4" stroke-linecap="round"/>
<path d="M1238.5 1251.9 V1270.3 M1214 1251.9 H1263 M1214 1270.3 H1263" fill="none" stroke="#000000" stroke-width="3.4" stroke-linecap="round"/>
<path d="M1378 1322.9 V1337.5 M1353.5 1322.9 H1402.5 M1353.5 1337.5 H1402.5" fill="none" stroke="#ff0000" stroke-width="3.4" stroke-linecap="round"/>
<circle cx="969.4" cy="1334.1" r="7.5" fill="#cccccc"/>
<circle cx="947.1" cy="1349.9" r="7.5" fill="#cccccc"/>
<circle cx="994.5" cy="1355.9" r="7.5" fill="#cccccc"/>
<circle cx="922.1" cy="1362.1" r="7.5" fill="#cccccc"/>
<circle cx="940.2" cy="1365.3" r="7.5" fill="#cccccc"/>
<circle cx="976.4" cy="1365.3" r="7.5" fill="#cccccc"/>
<circle cx="958.1" cy="1378.4" r="7.5" fill="#cccccc"/>
<circle cx="922.1" cy="1384.3" r="7.5" fill="#cccccc"/>
<circle cx="994.5" cy="1384.3" r="7.5" fill="#cccccc"/>
<circle cx="940.2" cy="1390.2" r="7.5" fill="#cccccc"/>
<circle cx="958.1" cy="1406" r="7.5" fill="#cccccc"/>
<circle cx="976.4" cy="1402.3" r="7.5" fill="#cccccc"/>
<circle cx="1062.3" cy="1371.5" r="7.5" fill="#0433ff"/>
<circle cx="1134.5" cy="1368.6" r="7.5" fill="#0433ff"/>
<circle cx="1080.2" cy="1380.8" r="7.5" fill="#0433ff"/>
<circle cx="1098.3" cy="1380.8" r="7.5" fill="#0433ff"/>
<circle cx="1116.4" cy="1380.8" r="7.5" fill="#0433ff"/>
<circle cx="1062.7" cy="1402.5" r="7.5" fill="#0433ff"/>
<circle cx="1074.6" cy="1415.4" r="7.5" fill="#0433ff"/>
<circle cx="1086.4" cy="1421.3" r="7.5" fill="#0433ff"/>
<circle cx="1098.3" cy="1424.7" r="7.5" fill="#0433ff"/>
<circle cx="1110.3" cy="1421.3" r="7.5" fill="#0433ff"/>
<circle cx="1122" cy="1421.3" r="7.5" fill="#0433ff"/>
<circle cx="1134.1" cy="1411.7" r="7.5" fill="#0433ff"/>
<circle cx="1216" cy="1212.5" r="7.5" fill="#000000"/>
<circle cx="1238.5" cy="1234.4" r="7.5" fill="#000000"/>
<circle cx="1260.8" cy="1231.3" r="7.5" fill="#000000"/>
<circle cx="1204.7" cy="1253" r="7.5" fill="#000000"/>
<circle cx="1272.1" cy="1253" r="7.5" fill="#000000"/>
<circle cx="1227.2" cy="1268.9" r="7.5" fill="#000000"/>
<circle cx="1249.6" cy="1271.8" r="7.5" fill="#000000"/>
<circle cx="1216" cy="1287.2" r="7.5" fill="#000000"/>
<circle cx="1260.8" cy="1293.9" r="7.5" fill="#000000"/>
<circle cx="1238.5" cy="1303" r="7.5" fill="#000000"/>
<circle cx="1355.4" cy="1293.9" r="7.5" fill="#ff0000"/>
<circle cx="1400.4" cy="1299.7" r="7.5" fill="#ff0000"/>
<circle cx="1377.9" cy="1309.1" r="7.5" fill="#ff0000"/>
<circle cx="1341.5" cy="1321.9" r="7.5" fill="#ff0000"/>
<circle cx="1414.2" cy="1321.9" r="7.5" fill="#ff0000"/>
<circle cx="1359.7" cy="1327" r="7.5" fill="#ff0000"/>
<circle cx="1396.1" cy="1327" r="7.5" fill="#ff0000"/>
<circle cx="1377.9" cy="1340.7" r="7.5" fill="#ff0000"/>
<circle cx="1411.5" cy="1344" r="7.5" fill="#ff0000"/>
<circle cx="1344" cy="1352.7" r="7.5" fill="#ff0000"/>
<circle cx="1389.2" cy="1356.1" r="7.5" fill="#ff0000"/>
<circle cx="1366.6" cy="1365.4" r="7.5" fill="#ff0000"/>
<path d="M1128.6 1099 H1382.1" stroke="#000" stroke-width="3.6" stroke-linecap="round"/>
<path d="M957.9 1189.8 H1212.4" stroke="#000" stroke-width="3.6" stroke-linecap="round"/>
<path d="M1250.8 1189.8 H1383.1" stroke="#000" stroke-width="3.6" stroke-linecap="round"/>
<path d="M962.7 1302.2 H1092.2" stroke="#000" stroke-width="3.6" stroke-linecap="round"/>
<text x="1240.75" y="1098.8" text-anchor="middle" font-size="48" font-weight="bold" letter-spacing="1" font-family="Liberation Sans">****</text>
<text x="1095.35" y="1189.1" text-anchor="middle" font-size="48" font-weight="bold" letter-spacing="1" font-family="Liberation Sans">****</text>
<text x="1319.1" y="1189.5" text-anchor="middle" font-size="48" font-weight="bold" letter-spacing="1" font-family="Liberation Sans">****</text>
<text x="1027.75" y="1301.3" text-anchor="middle" font-size="48" font-weight="bold" letter-spacing="1" font-family="Liberation Sans">*</text>
<text transform="translate(800.3 1342.5) rotate(-90)" text-anchor="middle" font-size="29.2" font-family="Liberation Sans">Time to completion (s)</text>
<text x="1160.75" y="1569" text-anchor="middle" font-size="29.2" font-family="Liberation Sans">1-cm inclined beam</text>
</svg></body></html>
